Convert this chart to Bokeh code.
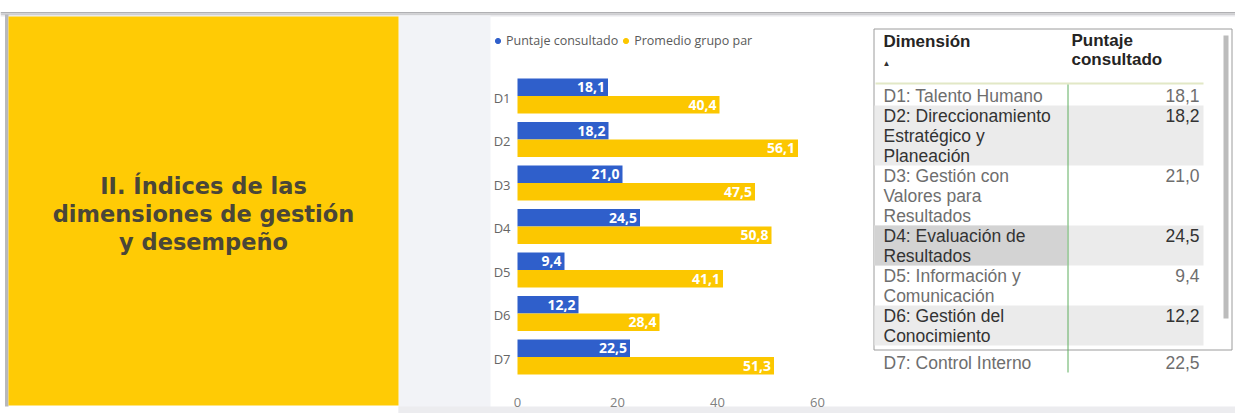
from bokeh.plotting import figure
from bokeh.models import ColumnDataSource, Range1d, Legend, LegendItem
from bokeh.transform import dodge
from bokeh.core.properties import value
from bokeh.embed import file_html
from bokeh.resources import INLINE

# ---------------- data ----------------
categories = ["D1", "D2", "D3", "D4", "D5", "D6", "D7"]
puntaje = [18.1, 18.2, 21.0, 24.5, 9.4, 12.2, 22.5]
promedio = [40.4, 56.1, 47.5, 50.8, 41.1, 28.4, 51.3]
series_names = ["Puntaje consultado", "Promedio grupo par"]
x_ticks = [0, 20, 40, 60]
dim_lines = [
    ["D1: Talento Humano"],
    ["D2: Direccionamiento", "Estratégico y", "Planeación"],
    ["D3: Gestión con", "Valores para", "Resultados"],
    ["D4: Evaluación de", "Resultados"],
    ["D5: Información y", "Comunicación"],
    ["D6: Gestión del", "Conocimiento"],
    ["D7: Control Interno"],
]
table_headers = ["Dimensión", ["Puntaje", "consultado"]]
title_lines = ["II. Índices de las", "dimensiones de gestión", "y desempeño"]

BLUE = "#2f5fcb"
YELLOW = "#fcc700"
PANEL_YELLOW = "#ffcb05"
W, H = 1235, 413


def fmt(v):
    return f"{v:.1f}".replace(".", ",")


# ---- bar chart scales (pixel placement of the chart area) ----
X0_PX, PX_PER_UNIT = 517.0, 5.0          # value 0 at x=517px, 5 px per unit
Y0_PX, PX_PER_CAT = 95.5, 43.5           # first category centre, spacing
bx = Range1d(-X0_PX / PX_PER_UNIT, (W - X0_PX) / PX_PER_UNIT)
by = Range1d((H - Y0_PX) / PX_PER_CAT, -Y0_PX / PX_PER_CAT)   # increases downward

p = figure(width=W, height=H, x_range=Range1d(0, W), y_range=Range1d(H, 0),
           output_backend="svg", toolbar_location=None, min_border=0)
p.extra_x_ranges = {"bx": bx}
p.extra_y_ranges = {"by": by}
p.axis.visible = False
p.grid.visible = False
p.outline_line_color = None
p.background_fill_color = "white"
p.border_fill_color = "white"

# ---------------- page decoration ----------------
p.quad(left=0, right=W, top=11.5, bottom=13, color="#b0b0b3", line_color=None)
p.quad(left=0, right=W, top=13, bottom=14.5, color="#cfcfd2", line_color=None)
p.quad(left=0, right=W, top=14.5, bottom=16, color="#e8e8eb", line_color=None)
p.quad(left=4.5, right=8, top=14, bottom=406, color="#b8b8bb", line_color=None)
p.quad(left=398, right=490, top=15, bottom=H, color="#f2f3f7", line_color=None)
p.quad(left=398, right=W, top=406, bottom=H, color="#ececef", line_color=None)
p.quad(left=8, right=398, top=16, bottom=405, color=PANEL_YELLOW, line_color=None)
p.text(x=[203] * 3, y=[185, 213, 241], text=title_lines, text_align="center",
       text_baseline="middle", text_font=value("DejaVu Sans"), text_font_style="bold",
       text_font_size="22.5px", text_color="#4a4638")

# ---------------- bar chart ----------------
src = ColumnDataSource(dict(cat=categories, pos=list(range(len(categories))),
                            puntaje=puntaje, promedio=promedio,
                            p_lbl=[fmt(v) for v in puntaje],
                            q_lbl=[fmt(v) for v in promedio],
                            zero=[0] * len(categories)))
r_blue = p.hbar(y=dodge("pos", -0.2), left=0, right="puntaje", height=0.4, color=BLUE,
                line_color=None, source=src, x_range_name="bx", y_range_name="by")
r_yel = p.hbar(y=dodge("pos", 0.2), left=0, right="promedio", height=0.4, color=YELLOW,
               line_color=None, source=src, x_range_name="bx", y_range_name="by")
p.text(x="puntaje", y=dodge("pos", -0.2), text="p_lbl", source=src, x_range_name="bx",
       y_range_name="by", text_align="right", text_baseline="middle", x_offset=-3,
       text_color="white", text_font=value("Open Sans"), text_font_size="14px",
       text_font_style="bold")
p.text(x="promedio", y=dodge("pos", 0.2), text="q_lbl", source=src, x_range_name="bx",
       y_range_name="by", text_align="right", text_baseline="middle", x_offset=-3,
       text_color="white", text_font=value("Open Sans"), text_font_size="14px",
       text_font_style="bold")
# category labels
p.text(x="zero", y="pos", text="cat", source=src, x_range_name="bx", y_range_name="by",
       text_align="right", text_baseline="middle", x_offset=-7, y_offset=1.5,
       text_color="#666666", text_font=value("Open Sans"), text_font_size="13px")
# value-axis tick labels
tick_src = ColumnDataSource(dict(t=x_ticks, lbl=[str(t) for t in x_ticks], yy=[402] * len(x_ticks)))
p.text(x="t", y="yy", text="lbl", source=tick_src, x_range_name="bx",
       text_align="center", text_baseline="middle", text_color="#808080",
       text_font=value("Open Sans"), text_font_size="13px")

# legend (dot markers of zero size: only the legend shows them)
d1 = p.scatter(x="zero", y="pos", source=src, marker="circle", size=0, color=BLUE,
               x_range_name="bx", y_range_name="by")
d2 = p.scatter(x="zero", y="pos", source=src, marker="circle", size=0, color=YELLOW,
               x_range_name="bx", y_range_name="by")
legend = Legend(items=[LegendItem(label=series_names[0], renderers=[d1], index=0),
                       LegendItem(label=series_names[1], renderers=[d2], index=0)],
                orientation="horizontal", location=(491, H - 49), glyph_width=13,
                glyph_height=13, label_standoff=2, spacing=1, padding=0, margin=0,
                border_line_color=None, background_fill_alpha=0,
                label_text_font_size="12.5px", label_text_font="Open Sans",
                label_text_color="#5a5a5a", label_height=13)
p.add_layout(legend)

# ---------------- table ----------------
TFONT = value("Liberation Sans")
p.quad(left=873.5, right=1231.5, top=28.5, bottom=349.5, fill_color="white",
       line_color="#9c9c9c", line_width=1)
p.quad(left=1223, right=1228, top=35, bottom=318, color="#bcbcbc", line_color=None)

p.text(x=[883], y=[41], text=[table_headers[0]], text_baseline="middle", text_font=TFONT,
       text_font_style="bold", text_font_size="17px", text_color="#252423")
p.text(x=[1071, 1071], y=[40, 59], text=table_headers[1], text_baseline="middle",
       text_font=TFONT, text_font_style="bold", text_font_size="17px", text_color="#252423")
p.text(x=[886], y=[63], text=["▲"], text_align="center", text_baseline="middle",
       text_font=TFONT, text_font_size="8px", text_color="#333333")
p.segment(x0=[875], x1=[1203], y0=[83], y1=[83], line_color="#e2e8c6", line_width=2)

LINE_H = 20
top = 85
xs_t, ys_t, tt, tc = [], [], [], []
xs_v, ys_v, vv, vc = [], [], [], []
for i, lines in enumerate(dim_lines):
    if i == len(dim_lines) - 1:
        top = 352
    n = len(lines)
    dark = (i % 2 == 1)
    if dark:
        p.quad(left=874, right=1203, top=top, bottom=top + n * LINE_H, color="#ebebeb",
               line_color=None)
        if i == 3:
            p.quad(left=874, right=1066.5, top=top, bottom=top + n * LINE_H,
                   color="#d3d3d3", line_color=None)
    col = "#333333" if dark else "#6e6e6e"
    for k, ln in enumerate(lines):
        xs_t.append(883)
        ys_t.append(top + 10 + k * LINE_H)
        tt.append(ln)
        tc.append(col)
    xs_v.append(1199)
    ys_v.append(top + 10)
    vv.append(fmt(puntaje[i]))
    vc.append(col)
    top += n * LINE_H

p.segment(x0=[1067.5], x1=[1067.5], y0=[84], y1=[372], line_color="#5fae5f", line_width=1)
p.text(x=xs_t, y=ys_t, text=tt, text_color=tc, text_baseline="middle", text_font=TFONT,
       text_font_size="17.5px")
p.text(x=xs_v, y=ys_v, text=vv, text_color=vc, text_baseline="middle", text_align="right",
       text_font=TFONT, text_font_size="17.5px")

open("out.html", "w").write(file_html(p, INLINE))
